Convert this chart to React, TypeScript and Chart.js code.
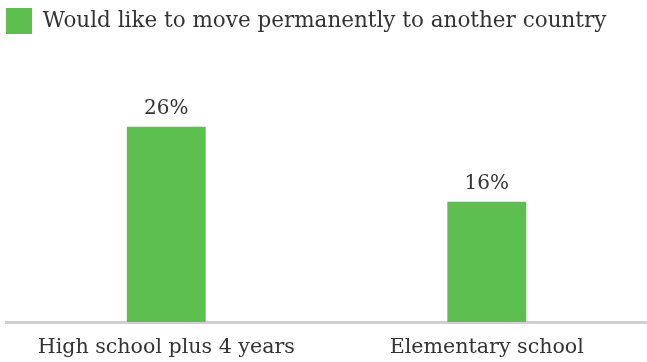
import React, { useEffect, useRef } from "react";
import { Chart, registerables } from "chart.js";

Chart.register(...registerables);

const categories = ["High school plus 4 years", "Elementary school"];
const seriesLabel = "Would like to move permanently to another country";
const values = [26, 16];

const FONT = "'DejaVu Serif', Georgia, serif";
const GREEN = "#5dbf4f";
const TEXT = "#333333";

const valueLabels = {
  id: "valueLabels",
  afterDatasetsDraw(chart: any) {
    const ctx = chart.ctx;
    const meta = chart.getDatasetMeta(0);
    ctx.save();
    ctx.font = `20px ${FONT}`;
    ctx.fillStyle = TEXT;
    ctx.textAlign = "center";
    ctx.textBaseline = "alphabetic";
    meta.data.forEach((bar: any, i: number) => {
      ctx.fillText(`${values[i]}%`, bar.x, bar.y - 13);
    });
    ctx.restore();
  },
};

export default function App() {
  const ref = useRef<HTMLCanvasElement>(null);
  useEffect(() => {
    document.body.style.margin = "0";
    const chart = new Chart(ref.current!, {
      type: "bar",
      data: {
        labels: categories,
        datasets: [
          {
            label: seriesLabel,
            data: values,
            backgroundColor: GREEN,
            borderWidth: 0,
            categoryPercentage: 1,
            barPercentage: 0.246,
          },
        ],
      },
      options: {
        responsive: false,
        animation: false,
        layout: { padding: { left: 6, right: 0, top: 8, bottom: 0 } },
        plugins: {
          legend: {
            position: "top",
            align: "start",
            labels: {
              boxWidth: 26,
              boxHeight: 26,
              color: TEXT,
              font: { family: FONT, size: 21.5 },
              padding: 0,
            },
          },
          tooltip: { enabled: false },
          title: { display: false },
        },
        scales: {
          x: {
            grid: { display: false, drawTicks: false },
            border: { display: true, color: "#d0d0d0", width: 3 },
            ticks: { color: TEXT, font: { family: FONT, size: 20.6 }, padding: 13 },
            afterFit(scale: any) {
              scale.height = 40;
            },
          },
          y: {
            display: false,
            min: 0,
            max: 37,
          },
        },
      },
      plugins: [valueLabels],
    });
    return () => chart.destroy();
  }, []);
  return <canvas ref={ref} width={647} height={362} style={{ display: "block" }} />;
}
